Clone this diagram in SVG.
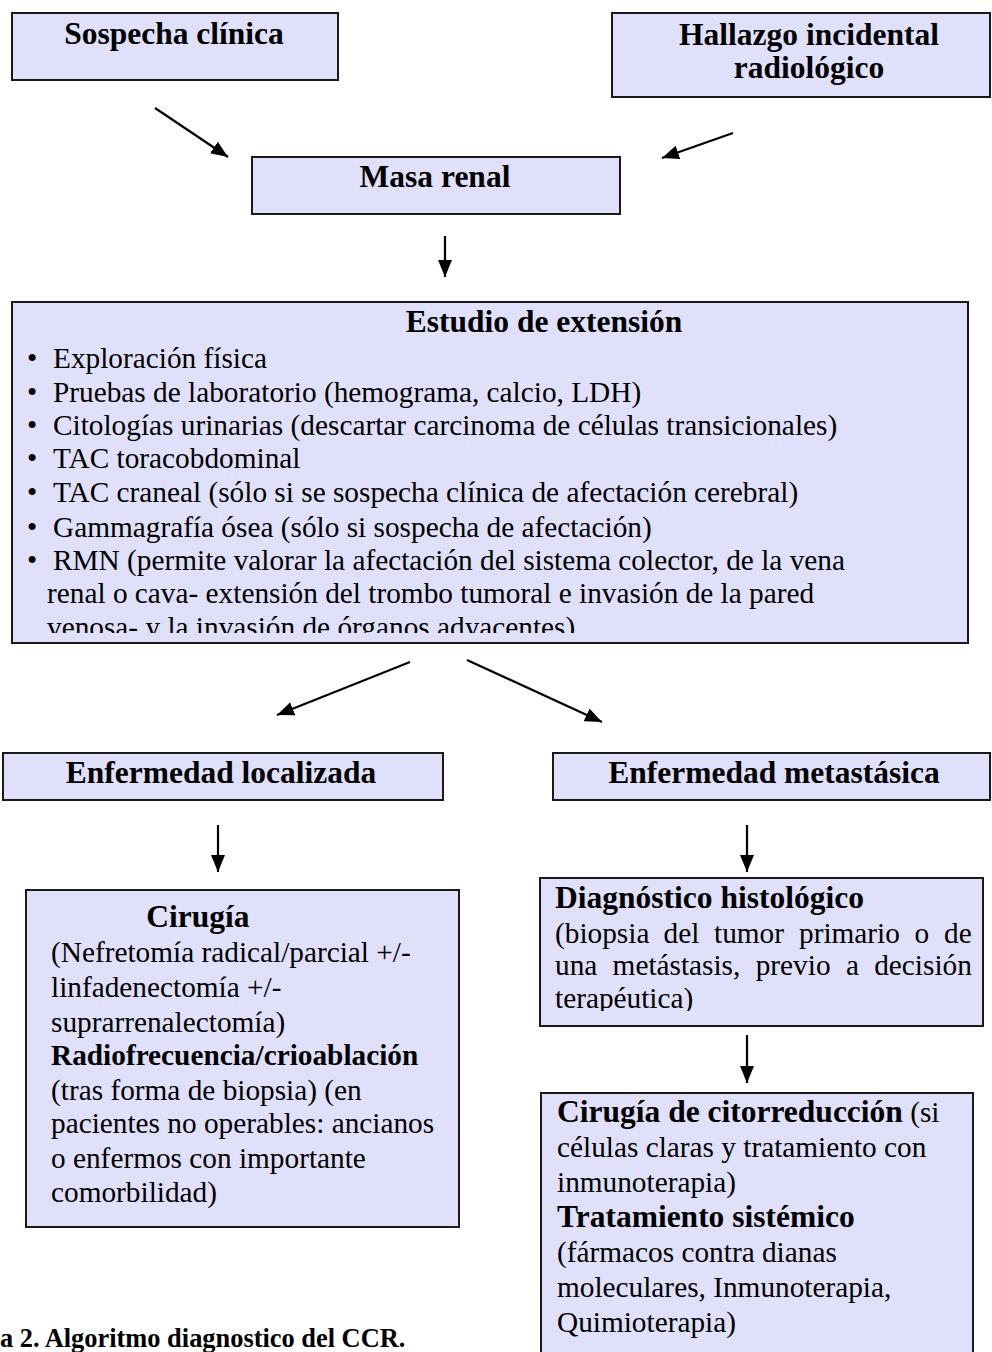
<svg xmlns="http://www.w3.org/2000/svg" width="992" height="1352" viewBox="0 0 992 1352">
<style>
.box{fill:#e0e0fa;stroke:#1a1a1a;stroke-width:2}
.h{font-family:"Liberation Serif","Times New Roman",serif;font-weight:bold;font-size:31.5px;fill:#000}
.t{font-family:"Liberation Serif","Times New Roman",serif;font-size:29.3px;fill:#000}
.tb{font-family:"Liberation Serif","Times New Roman",serif;font-size:29.3px;font-weight:bold;fill:#000}
.cap{font-family:"Liberation Serif","Times New Roman",serif;font-weight:bold;font-size:26.4px;fill:#000}
.c{stroke:#000;stroke-width:2.2;fill:none;marker-end:url(#ah)}
</style>
<defs>
<marker id="ah" markerUnits="userSpaceOnUse" markerWidth="18" markerHeight="14" refX="17" refY="7" orient="auto">
<path d="M0,0 L17,7 L0,14 Z" fill="#000"/>
</marker>
<clipPath id="clipE"><rect x="12" y="302" width="956" height="331"/></clipPath>
<clipPath id="clipD"><rect x="540" y="878" width="443" height="133"/></clipPath>
</defs>
<rect width="992" height="1352" fill="#fff"/>

<g id="sospecha">
<rect class="box" x="12" y="13" width="326" height="67"/>
<text class="h" x="174" y="44" text-anchor="middle">Sospecha clínica</text>
</g>

<g id="hallazgo">
<rect class="box" x="612" y="13" width="378" height="84"/>
<text class="h" x="809" y="45" text-anchor="middle">Hallazgo incidental</text>
<text class="h" x="809" y="78" text-anchor="middle">radiológico</text>
</g>

<g id="masa">
<rect class="box" x="252" y="157" width="368" height="57"/>
<text class="h" x="435" y="187" text-anchor="middle">Masa renal</text>
</g>

<g id="estudio">
<rect class="box" x="12" y="302" width="956" height="341"/>
<text class="h" x="544" y="332" text-anchor="middle">Estudio de extensión</text>
<g clip-path="url(#clipE)">
<text class="t" x="27" y="368">•</text><text class="t" x="53" y="368">Exploración física</text>
<text class="t" x="27" y="402">•</text><text class="t" x="53" y="402">Pruebas de laboratorio (hemograma, calcio, LDH)</text>
<text class="t" x="27" y="435">•</text><text class="t" x="53" y="435">Citologías urinarias (descartar carcinoma de células transicionales)</text>
<text class="t" x="27" y="468">•</text><text class="t" x="53" y="468">TAC toracobdominal</text>
<text class="t" x="27" y="502">•</text><text class="t" x="53" y="502">TAC craneal (sólo si se sospecha clínica de afectación cerebral)</text>
<text class="t" x="27" y="537">•</text><text class="t" x="53" y="537">Gammagrafía ósea (sólo si sospecha de afectación)</text>
<text class="t" x="27" y="570">•</text><text class="t" x="53" y="570">RMN (permite valorar la afectación del sistema colector, de la vena</text>
<text class="t" x="47" y="603">renal o cava- extensión del trombo tumoral e invasión de la pared</text>
<text class="t" x="47" y="637">venosa- y la invasión de órganos adyacentes)</text>
</g>
</g>

<g id="localizada">
<rect class="box" x="3" y="753" width="440" height="47"/>
<text class="h" x="221" y="783" text-anchor="middle">Enfermedad localizada</text>
</g>

<g id="metastasica">
<rect class="box" x="553" y="753" width="437" height="47"/>
<text class="h" x="774" y="783" text-anchor="middle">Enfermedad metastásica</text>
</g>

<g id="cirugia">
<rect class="box" x="26" y="890" width="433" height="337"/>
<text class="h" x="198" y="927" text-anchor="middle">Cirugía</text>
<text class="t" x="51" y="962">(Nefretomía radical/parcial +/-</text>
<text class="t" x="51" y="997">linfadenectomía +/-</text>
<text class="t" x="51" y="1032">suprarrenalectomía)</text>
<text class="tb" x="51" y="1065">Radiofrecuencia/crioablación</text>
<text class="t" x="51" y="1100">(tras forma de biopsia) (en</text>
<text class="t" x="51" y="1133">pacientes no operables: ancianos</text>
<text class="t" x="51" y="1168">o enfermos con importante</text>
<text class="t" x="51" y="1202">comorbilidad)</text>
</g>

<g id="diagnostico">
<rect class="box" x="540" y="878" width="443" height="148"/>
<text class="h" x="555" y="908">Diagnóstico histológico</text>
<g clip-path="url(#clipD)">
<text class="t" y="943"><tspan x="555">(biopsia</tspan><tspan x="663.6">del</tspan><tspan x="714">tumor</tspan><tspan x="799">primario</tspan><tspan x="914.6">o</tspan><tspan x="944">de</tspan></text>
<text class="t" y="975"><tspan x="555">una</tspan><tspan x="612.6">metástasis,</tspan><tspan x="755.7">previo</tspan><tspan x="845.9">a</tspan><tspan x="874.2">decisión</tspan></text>
<text class="t" x="555" y="1008">terapéutica)</text>
</g>
</g>

<g id="tratamiento">
<rect class="box" x="541" y="1093" width="432" height="275"/>
<text x="557" y="1122"><tspan class="h">Cirugía de citorreducción</tspan><tspan class="t"> (si</tspan></text>
<text class="t" x="557" y="1157">células claras y tratamiento con</text>
<text class="t" x="557" y="1192">inmunoterapia)</text>
<text class="h" x="557" y="1227">Tratamiento sistémico</text>
<text class="t" x="557" y="1262">(fármacos contra dianas</text>
<text class="t" x="557" y="1297">moleculares, Inmunoterapia,</text>
<text class="t" x="557" y="1332">Quimioterapia)</text>
</g>

<g id="caption">
<text class="cap" x="0" y="1347">a 2. Algoritmo diagnostico del CCR.</text>
</g>

<g id="connectors">
<path class="c" d="M155,108 L228,157"/>
<path class="c" d="M733,133 L662,158"/>
<path class="c" d="M445,236 L445,277"/>
<path class="c" d="M410,662 L277,715"/>
<path class="c" d="M467,660 L602,722"/>
<path class="c" d="M218,825 L218,872"/>
<path class="c" d="M747,825 L747,872"/>
<path class="c" d="M747,1035 L747,1083"/>
</g>
</svg>
